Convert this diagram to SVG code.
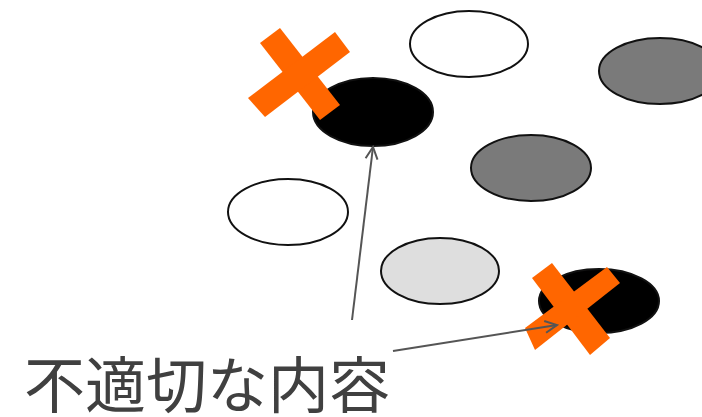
<svg xmlns="http://www.w3.org/2000/svg" width="702" height="417" viewBox="0 0 702 417">
<defs>
<style>
.e{stroke:#111;stroke-width:2}
.x{fill:#ff6600}
.c{stroke:#555;stroke-width:2;fill:none}
.t{font-family:"Noto Sans CJK JP","Noto Sans",sans-serif;font-size:61px;fill:#404040}
</style>
<marker id="ah" viewBox="0 0 16 16" refX="14" refY="8" markerWidth="16" markerHeight="16" markerUnits="userSpaceOnUse" orient="auto">
<path d="M2,2 L14,8 L2,14" fill="none" stroke="#555" stroke-width="2"/>
</marker>
</defs>
<rect width="702" height="417" fill="#fff"/>
<g id="e1"><ellipse class="e" cx="469" cy="44" rx="59" ry="33" fill="#fff"/></g>
<g id="e2"><ellipse class="e" cx="660" cy="71" rx="61" ry="33" fill="#7a7a7a"/></g>
<g id="e3"><ellipse class="e" cx="373" cy="112" rx="60" ry="34" fill="#000"/></g>
<g id="e4"><ellipse class="e" cx="531" cy="168" rx="60" ry="33" fill="#7a7a7a"/></g>
<g id="e5"><ellipse class="e" cx="288" cy="212" rx="60" ry="33" fill="#fff"/></g>
<g id="e6"><ellipse class="e" cx="440" cy="271" rx="59" ry="33" fill="#dedede"/></g>
<g id="e7"><ellipse class="e" cx="599" cy="301" rx="60" ry="32" fill="#000"/></g>
<g id="x1">
<polygon class="x" points="260,43 280,28 340,105 320,120"/>
<polygon class="x" points="248,98 335,32 350,52 265,117"/>
</g>
<g id="x2">
<polygon class="x" points="532,278 552,263 610,338 590,355"/>
<polygon class="x" points="607,267 620,283 535,350 525,328"/>
</g>
<g id="connectors">
<line class="c" x1="352" y1="320" x2="373" y2="147" marker-end="url(#ah)"/>
<line class="c" x1="393" y1="351" x2="557" y2="325" marker-end="url(#ah)"/>
</g>
<g id="label"><text class="t" x="24" y="408">不適切な内容</text></g>
</svg>
